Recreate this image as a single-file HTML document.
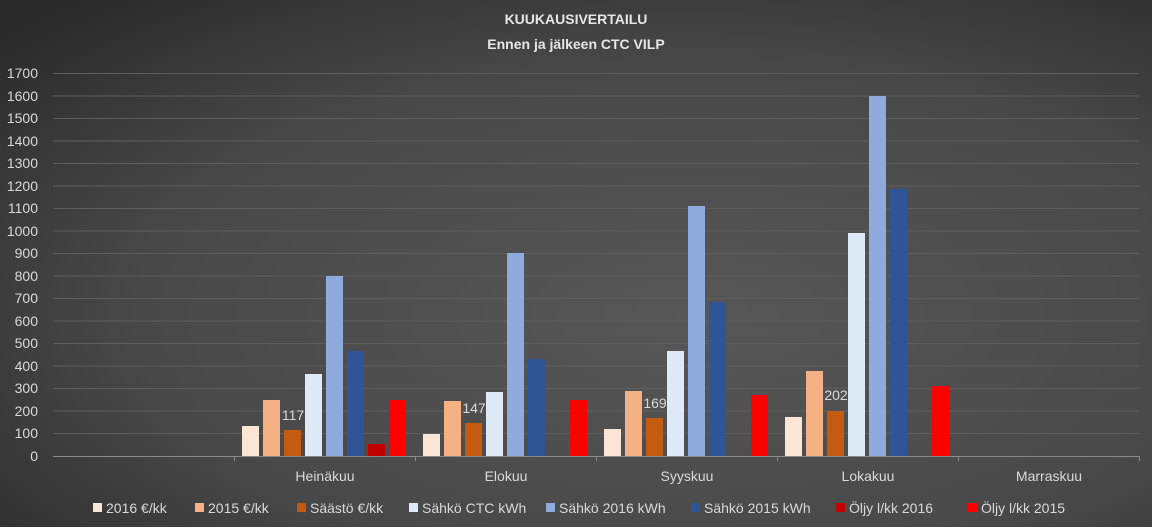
<!DOCTYPE html>
<html><head><meta charset="utf-8"><style>
body{margin:0;width:1152px;height:527px;overflow:hidden;font-family:"Liberation Sans",sans-serif;}
</style></head><body>
<svg width="1152" height="527" xmlns="http://www.w3.org/2000/svg" font-family="Liberation Sans, sans-serif">
<defs><radialGradient id="bg" cx="0.6" cy="0.6" r="0.8">
<stop offset="0" stop-color="#575757"/><stop offset="0.6" stop-color="#484848"/><stop offset="1" stop-color="#2a2a2a"/></radialGradient></defs>
<rect width="1152" height="527" fill="url(#bg)"/>
<g fill="#e6e6e6" font-weight="bold" font-size="14" text-anchor="middle">
<text x="576" y="24">KUUKAUSIVERTAILU</text>
<text x="576" y="49">Ennen ja jälkeen CTC VILP</text>
</g>
<g stroke="#5e5e5e" stroke-width="1">
<line x1="53" x2="1139" y1="73.5" y2="73.5"/><line x1="53" x2="1139" y1="96" y2="96"/>
<line x1="53" x2="1139" y1="118.5" y2="118.5"/><line x1="53" x2="1139" y1="141" y2="141"/>
<line x1="53" x2="1139" y1="163.5" y2="163.5"/><line x1="53" x2="1139" y1="186" y2="186"/>
<line x1="53" x2="1139" y1="208.5" y2="208.5"/><line x1="53" x2="1139" y1="231" y2="231"/>
<line x1="53" x2="1139" y1="253.5" y2="253.5"/><line x1="53" x2="1139" y1="276" y2="276"/>
<line x1="53" x2="1139" y1="298.5" y2="298.5"/><line x1="53" x2="1139" y1="321" y2="321"/>
<line x1="53" x2="1139" y1="343.5" y2="343.5"/><line x1="53" x2="1139" y1="366" y2="366"/>
<line x1="53" x2="1139" y1="388.5" y2="388.5"/><line x1="53" x2="1139" y1="411" y2="411"/>
<line x1="53" x2="1139" y1="433.5" y2="433.5"/>
</g>
<g fill="#d9d9d9" font-size="14" text-anchor="end">
<text x="38" y="78">1700</text><text x="38" y="101">1600</text><text x="38" y="123">1500</text><text x="38" y="146">1400</text>
<text x="38" y="168">1300</text><text x="38" y="191">1200</text><text x="38" y="213">1100</text><text x="38" y="236">1000</text>
<text x="38" y="258">900</text><text x="38" y="281">800</text><text x="38" y="303">700</text><text x="38" y="326">600</text>
<text x="38" y="348">500</text><text x="38" y="371">400</text><text x="38" y="393">300</text><text x="38" y="416">200</text>
<text x="38" y="438">100</text><text x="38" y="461">0</text>
</g>
<g>
<rect x="242" y="426" width="17" height="30" fill="#FBE5D6"/>
<rect x="263" y="400" width="17" height="56" fill="#F4B183"/>
<rect x="284" y="430" width="17" height="26" fill="#C55A11"/>
<rect x="305" y="374" width="17" height="82" fill="#DEEBF7"/>
<rect x="326" y="276" width="17" height="180" fill="#8FAADC"/>
<rect x="347" y="351" width="17" height="105" fill="#2F5597"/>
<rect x="368" y="444" width="17" height="12" fill="#C00000"/>
<rect x="389" y="400" width="17" height="56" fill="#FF0000"/>
<rect x="423" y="434" width="17" height="22" fill="#FBE5D6"/>
<rect x="444" y="401" width="17" height="55" fill="#F4B183"/>
<rect x="465" y="423" width="17" height="33" fill="#C55A11"/>
<rect x="486" y="392" width="17" height="64" fill="#DEEBF7"/>
<rect x="507" y="253" width="17" height="203" fill="#8FAADC"/>
<rect x="528" y="359" width="17" height="97" fill="#2F5597"/>
<rect x="570" y="400" width="17" height="56" fill="#FF0000"/>
<rect x="604" y="429" width="17" height="27" fill="#FBE5D6"/>
<rect x="625" y="391" width="17" height="65" fill="#F4B183"/>
<rect x="646" y="418" width="17" height="38" fill="#C55A11"/>
<rect x="667" y="351" width="17" height="105" fill="#DEEBF7"/>
<rect x="688" y="206" width="17" height="250" fill="#8FAADC"/>
<rect x="709" y="302" width="17" height="154" fill="#2F5597"/>
<rect x="751" y="395" width="17" height="61" fill="#FF0000"/>
<rect x="785" y="417" width="17" height="39" fill="#FBE5D6"/>
<rect x="806" y="371" width="17" height="85" fill="#F4B183"/>
<rect x="827" y="411" width="17" height="45" fill="#C55A11"/>
<rect x="848" y="233" width="17" height="223" fill="#DEEBF7"/>
<rect x="869" y="96" width="17" height="360" fill="#8FAADC"/>
<rect x="890" y="189" width="17" height="267" fill="#2F5597"/>
<rect x="932" y="386" width="17" height="70" fill="#FF0000"/>
</g>
<g fill="#d9d9d9" font-size="14" text-anchor="middle">
<text x="293" y="420">117</text><text x="474" y="413">147</text><text x="655" y="408">169</text><text x="836" y="400">202</text>
</g>
<g stroke="#8a8a8a" stroke-width="1">
<line x1="53" x2="1139" y1="456.5" y2="456.5"/>
<line x1="234.5" x2="234.5" y1="456" y2="461"/><line x1="415.5" x2="415.5" y1="456" y2="461"/>
<line x1="596.5" x2="596.5" y1="456" y2="461"/><line x1="777.5" x2="777.5" y1="456" y2="461"/>
<line x1="958.5" x2="958.5" y1="456" y2="461"/><line x1="1139.5" x2="1139.5" y1="456" y2="461"/>
</g>
<g fill="#d9d9d9" font-size="14" text-anchor="middle">
<text x="325" y="481">Heinäkuu</text><text x="506" y="481">Elokuu</text><text x="687" y="481">Syyskuu</text>
<text x="868" y="481">Lokakuu</text><text x="1049" y="481">Marraskuu</text>
</g>
<g font-size="14" fill="#d9d9d9">
<rect x="93" y="503" width="9" height="9" fill="#FBE5D6"/><text x="106" y="513">2016 €/kk</text>
<rect x="195" y="503" width="9" height="9" fill="#F4B183"/><text x="208" y="513">2015 €/kk</text>
<rect x="297" y="503" width="9" height="9" fill="#C55A11"/><text x="310" y="513">Säästö €/kk</text>
<rect x="409" y="503" width="9" height="9" fill="#DEEBF7"/><text x="422" y="513">Sähkö CTC kWh</text>
<rect x="546" y="503" width="9" height="9" fill="#8FAADC"/><text x="559" y="513">Sähkö 2016 kWh</text>
<rect x="691" y="503" width="9" height="9" fill="#2F5597"/><text x="704" y="513">Sähkö 2015 kWh</text>
<rect x="836" y="503" width="9" height="9" fill="#C00000"/><text x="849" y="513">Öljy l/kk 2016</text>
<rect x="968" y="503" width="9" height="9" fill="#FF0000"/><text x="981" y="513">Öljy l/kk 2015</text>
</g>
</svg>
</body></html>
